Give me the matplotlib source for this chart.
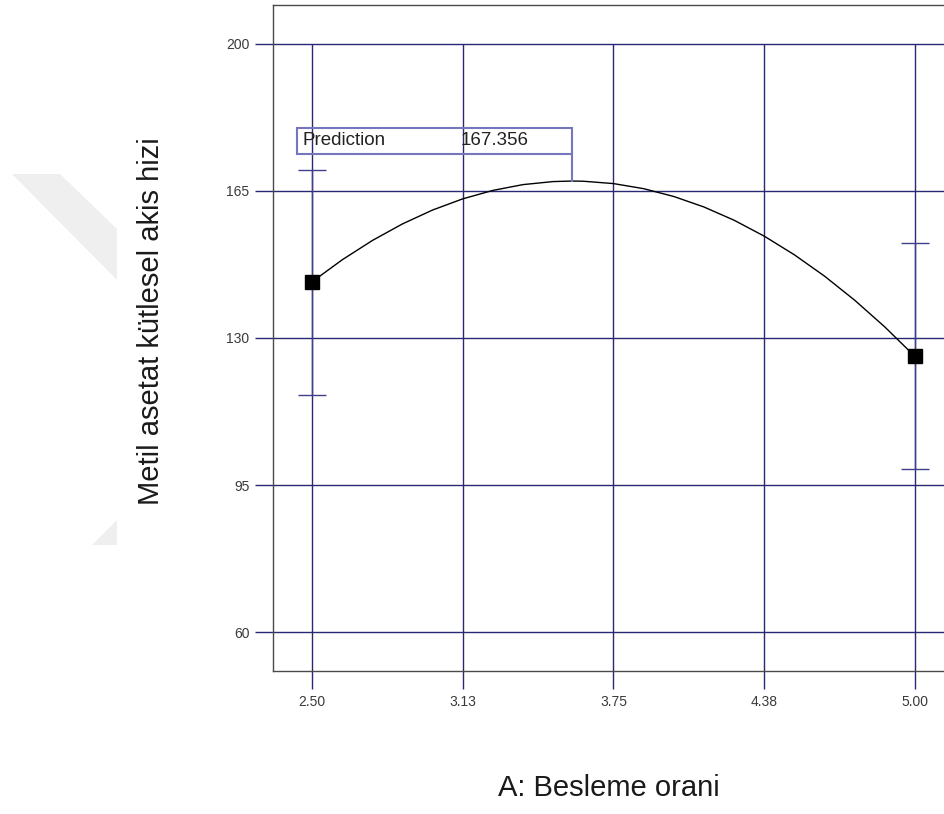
import matplotlib
matplotlib.use("Agg")
import matplotlib.pyplot as plt
from matplotlib.patches import Polygon, Rectangle

plt.rcParams['font.family'] = ['Liberation Sans', 'DejaVu Sans']

# design points (A: feed ratio) with their interval limits
x_pts = [2.50, 5.00]
y_pts = [143.4, 125.7]
y_low = [116.4, 98.7]
y_high = [170.1, 152.6]

# model prediction line
x_curve = [2.500, 2.625, 2.750, 2.875, 3.000, 3.125, 3.250, 3.375, 3.500, 3.578,
           3.625, 3.750, 3.875, 4.000, 4.125, 4.250, 4.375, 4.500, 4.625, 4.750,
           4.875, 5.000]
y_curve = [143.36, 148.60, 153.20, 157.15, 160.46, 163.12, 165.13, 166.51, 167.23, 167.356,
           167.31, 166.75, 165.54, 163.68, 161.18, 158.03, 154.24, 149.80, 144.72, 138.99,
           132.62, 125.60]

pred_x = 3.578
pred_y = 167.356

x_ticks = [2.50, 3.125, 3.75, 4.375, 5.00]
x_ticklabels = ['2.50', '3.13', '3.75', '4.38', '5.00']
y_ticks = [60, 95, 130, 165, 200]

grid_col = '#282874'
box_col = '#7676bd'

W, H = 945, 814
fig = plt.figure(figsize=(W / 100, H / 100), dpi=100)

# faint watermark band at the left edge (pixel coords)
def px(pts):
    return [(x / W, 1 - y / H) for x, y in pts]

fig.patches.append(Polygon(px([(12, 174), (60, 174), (117, 229), (117, 280)]),
                           closed=True, transform=fig.transFigure,
                           facecolor='#efefef', edgecolor='none'))
fig.patches.append(Polygon(px([(92, 545), (117, 520), (117, 545)]),
                           closed=True, transform=fig.transFigure,
                           facecolor='#efefef', edgecolor='none'))

ax = fig.add_axes([0.2889, 0.1757, 0.7206, 0.8182])
ax.set_xlim(2.3383, 5.1617)
ax.set_ylim(50.73, 209.27)

for s in ['left', 'bottom', 'top', 'right']:
    ax.spines[s].set_color('#4a4a4a')
    ax.spines[s].set_linewidth(1.0)

# grid: horizontal lines full width, vertical ones stop at the top tick
for yv in y_ticks:
    ax.axhline(yv, color=grid_col, lw=1.0, zorder=1)
ax.vlines(x_ticks, 50.73, 200, color=grid_col, lw=1.0, zorder=1)

ax.set_xticks(x_ticks)
ax.set_xticklabels(x_ticklabels)
ax.set_yticks(y_ticks)
ax.set_yticklabels([str(v) for v in y_ticks])
ax.tick_params(direction='out', length=13, width=1.0, color=grid_col,
               labelsize=10, labelcolor='#3a3a3a', pad=4)

# prediction curve and design points
ax.plot(x_curve, y_curve, color='black', lw=1.0, zorder=3)
yerr = [[c - lo for c, lo in zip(y_pts, y_low)],
        [hi - c for c, hi in zip(y_pts, y_high)]]
ax.errorbar(x_pts, y_pts, yerr=yerr, fmt='none', ecolor='#3f3f8c',
            elinewidth=1.0, capsize=10, capthick=1.0, zorder=2)
ax.plot(x_pts, y_pts, 's', color='black', markersize=10, zorder=4)

# prediction readout box with leader to the curve peak
box_left, box_bottom, box_top = 2.438, 173.85, 180.0
ax.add_patch(Rectangle((box_left, box_bottom), pred_x - box_left, box_top - box_bottom,
                       fill=False, edgecolor=box_col, lw=1.5, zorder=5))
ax.plot([pred_x, pred_x], [box_bottom, pred_y], color=box_col, lw=1.5, zorder=5)
ax.text(2.4585, 176.9, 'Prediction', fontsize=13.5, color='#222222', va='center', zorder=6)
ax.text(3.118, 176.9, f'{pred_y:.3f}', fontsize=13.5, color='#222222', va='center', zorder=6)

fig.text(151 / W, 1 - 321 / H, 'Metil asetat kütlesel akis hizi', rotation=90,
         fontsize=21, color='#1a1a1a', ha='center', va='center')
fig.text(609 / W, 1 - 788 / H, 'A: Besleme orani', fontsize=21, color='#1a1a1a',
         ha='center', va='center')

fig.savefig('out.png', dpi=100)
